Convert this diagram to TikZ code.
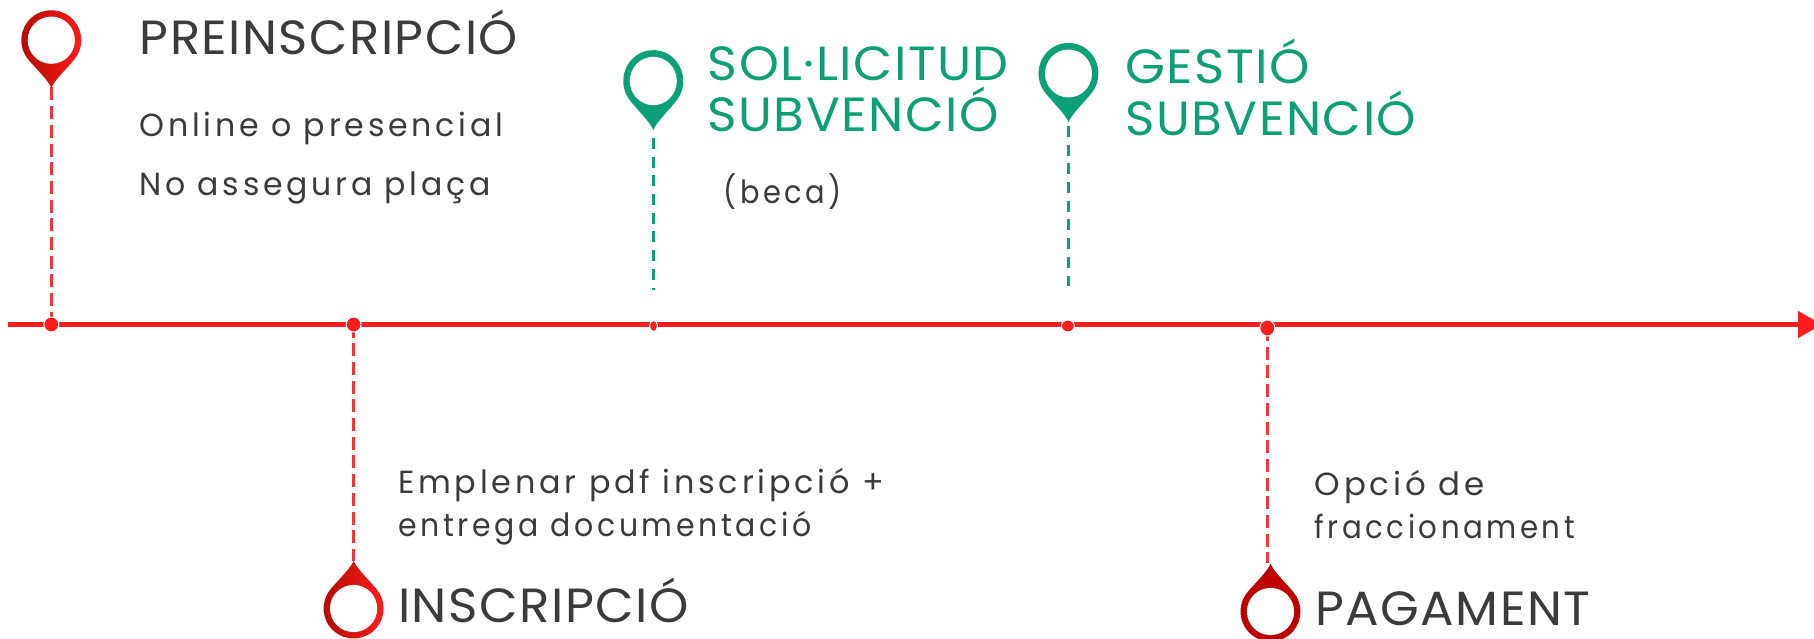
\documentclass[tikz,border=0pt]{standalone}
\usepackage{fontspec}
\usepackage{graphicx}
\usetikzlibrary{arrows.meta,shapes.geometric,backgrounds}
\newfontfamily\titlefont[LetterSpace=3]{Poppins}
\newfontfamily\bodyfont[LetterSpace=12]{Poppins}
\definecolor{axisred}{HTML}{FF1C1C}
\definecolor{dashred}{HTML}{F5343A}
\definecolor{pinteal}{HTML}{0C9F78}
\definecolor{pindark}{HTML}{B00C00}
\definecolor{pinsolid}{HTML}{BE0000}
\definecolor{inkgrey}{HTML}{3B3B3B}
\newcommand{\fitw}[2]{\resizebox{#1pt}{\height}{#2}}
\newcommand{\pinoutline}{(-23,-19.3) arc[start angle=220,end angle=-40,radius=30]
  .. controls (15,-29) and (3,-40) .. (0,-47.8) .. controls (-3,-40) and (-15,-29) .. cycle}
\tikzset{
  x=1pt,y=1pt,
  labelbase/.style={anchor=base west,inner sep=0pt,outer sep=0pt},
  headgrey/.style={labelbase,text=inkgrey,font=\titlefont\fontsize{48}{48}\selectfont},
  headteal/.style={labelbase,text=pinteal,font=\titlefont\fontsize{48}{48}\selectfont},
  bodytext/.style={labelbase,text=inkgrey,font=\bodyfont\fontsize{32}{32}\selectfont},
  axisdot/.style={ellipse,fill=axisred,draw=white,line width=1pt,inner sep=0pt},
  axisline/.style={draw=axisred,line width=4.6pt,-{Triangle[length=24pt,width=26pt]}},
  reddash/.style={draw=dashred,line width=3.2pt,dash pattern=on 13pt off 5.7pt},
  tealdash/.style={draw=pinteal,line width=2.2pt,dash pattern=on 11pt off 7.7pt},
  pinhole/.style={fill=white,draw=none},
}
\begin{document}
\begin{tikzpicture}
\useasboundingbox (0,0) rectangle (1814,638);
% axis ends
\coordinate (axstart) at (8,638-324.5);
\coordinate (axend) at (1822,638-324.5);
% axis markers
\node[axisdot,minimum width=15pt,minimum height=15pt] (d1) at (51.3,638-324.5) {};
\node[axisdot,minimum width=15pt,minimum height=15pt] (d2) at (353.6,638-324.5) {};
\node[axisdot,minimum width=8pt,minimum height=11pt] (d3) at (653.5,638-326) {};
\node[axisdot,minimum width=13pt,minimum height=12pt] (d4) at (1067.8,638-326) {};
\node[axisdot,minimum width=15pt,minimum height=16pt] (d5) at (1267.3,638-328) {};
% pin tips and free dash ends
\coordinate (t1) at (51.3,638-87.5);
\coordinate (t2) at (353.6,638-561);
\coordinate (t3) at (653.5,638-138);
\coordinate (e3) at (653.5,638-290);
\coordinate (t4) at (1068.5,638-126);
\coordinate (e4) at (1068.5,638-286);
\coordinate (t5) at (1267.3,638-563);
% pins
\begin{scope}[shift={(51.3,638-40.2)}]
  \shade[left color=pindark,right color=axisred] \pinoutline;
  \fill[pinhole] (0,0) circle[radius=23.6];
\end{scope}
\begin{scope}[shift={(353.6,638-608.5)},yscale=-1]
  \shade[left color=pindark,right color=axisred] \pinoutline;
  \fill[pinhole] (0,0) circle[radius=23.6];
\end{scope}
\begin{scope}[shift={(653.3,638-81)},yscale=1.03]
  \fill[pinteal] \pinoutline;
  \fill[pinhole] (0,0) circle[radius=23.5];
\end{scope}
\begin{scope}[shift={(1068.5,638-73.5)},yscale=1.02]
  \fill[pinteal] \pinoutline;
  \fill[pinhole] (0,0) circle[radius=23.5];
\end{scope}
\begin{scope}[shift={(1270.5,638-611.5)},yscale=-1]
  \fill[pinsolid] \pinoutline;
  \fill[pinhole] (0,0) circle[radius=23.6];
\end{scope}
% texts
\node[headgrey] (preins) at (139.8,638-54.5) {\fitw{378}{PREINSCRIPCIÓ}};
\node[bodytext] (online) at (139.5,638-137) {\fitw{364}{Online o presencial}};
\node[bodytext] (noas) at (139.5,638-196) {\fitw{351}{No assegura plaça}};
\node[headteal] (sol) at (707.8,638-80.3) {\fitw{301}{SOL·LICITUD}};
\node[headteal] (sub1) at (707.8,638-131.8) {\fitw{291}{SUBVENCIÓ}};
\node[bodytext] (beca) at (723.5,638-204) {\fitw{118}{(beca)}};
\node[headteal] (gest) at (1125.3,638-83.5) {\fitw{185}{GESTIÓ}};
\node[headteal] (sub2) at (1125.3,638-136) {\fitw{291}{SUBVENCIÓ}};
\node[bodytext] (empl) at (398,638-493) {\fitw{486}{Emplenar pdf inscripció +}};
\node[bodytext] (entr) at (398.5,638-536.7) {\fitw{413}{entrega documentació}};
\node[headgrey] (insc) at (398,638-622) {\fitw{291}{INSCRIPCIÓ}};
\node[bodytext] (opc) at (1314.7,638-495.7) {\fitw{170}{Opció de}};
\node[bodytext] (frac) at (1314.7,638-538.7) {\fitw{260}{fraccionament}};
\node[headgrey] (pag) at (1315.3,638-625) {\fitw{275}{PAGAMENT}};
% connectors under the markers
\begin{scope}[on background layer]
  \fill[white] (0,0) rectangle (1814,638);
  \draw[axisline] (axstart) -- (axend);
  \draw[reddash] (t1) -- (d1.center);
  \draw[reddash] (d2.center) -- (t2);
  \draw[tealdash] (t3) -- (e3);
  \draw[tealdash] (t4) -- (e4);
  \draw[reddash] (d5.center) -- (t5);
\end{scope}
\end{tikzpicture}
\end{document}
